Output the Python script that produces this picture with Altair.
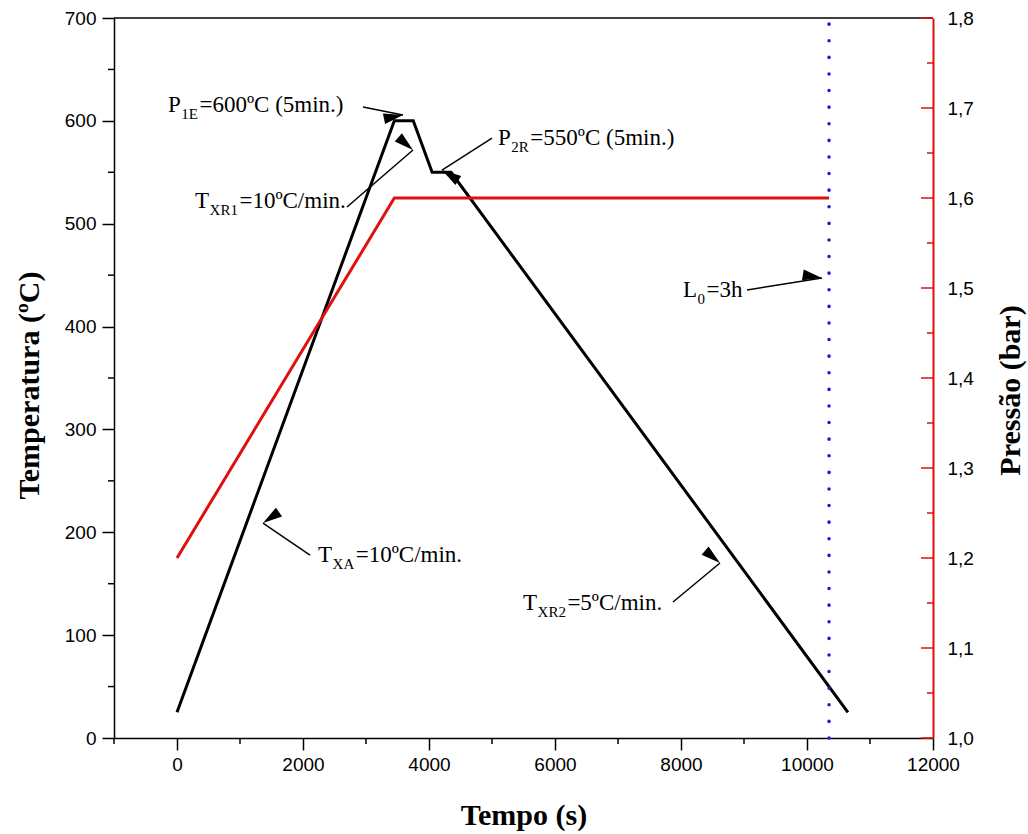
import math
import altair as alt
import pandas as pd

# ---------------- data ----------------
time_temp = [0, 3450, 3750, 4050, 4350, 10650]          # s
temperature = [25, 600, 600, 550, 550, 25]              # ºC
time_press = [0, 3450, 10350]                           # s
pressure = [1.2, 1.6, 1.6]                              # bar
limit_time = [10350]                                    # L0 = 3h marker

x_major_values = [0, 2000, 4000, 6000, 8000, 10000, 12000]
x_minor_values = [-1000, 1000, 3000, 5000, 7000, 9000, 11000]
t_major_values = [0, 100, 200, 300, 400, 500, 600, 700]
t_minor_values = [50, 150, 250, 350, 450, 550, 650]
p_label_values = [1.0, 1.1, 1.2, 1.3, 1.4, 1.5, 1.6, 1.7, 1.8]
p_minor_values = [1.05, 1.15, 1.25, 1.35, 1.45, 1.55, 1.65, 1.75]

# annotations: main letter, subscript, rest, anchor (time, temperature)
ann_main = ["P", "T", "P", "T", "T", "L"]
ann_sub = ["1E", "XR1", "2R", "XA", "XR2", "0"]
ann_rest = ["=600ºC (5min.)", "=10ºC/min.", "=550ºC (5min.)",
            "=10ºC/min.", "=5ºC/min.", "=3h"]
ann_time = [-143, 286, 5095, 2238, 5492, 8032]
ann_temp = [608.6, 515.3, 576.5, 171.1, 124.4, 428.7]

# arrows: tail -> tip (time, temperature)
arr_tail_time = [2952, 2698, 5000, 2111, 7873, 9048]
arr_tail_temp = [613.5, 516.2, 583.3, 177.9, 132.2, 435.6]
arr_tip_time = [3587, 3746, 4206, 1365, 8619, 10238]
arr_tip_temp = [605.7, 571.7, 552.2, 209.0, 170.1, 447.2]

# ---------------- layout ----------------
W, H = 819, 720
X_DOM = [-1000, 12000]
T_DOM = [0, 700]
P_DOM = [1.0, 1.8]
kx = W / (X_DOM[1] - X_DOM[0])   # px per second
ky = H / (T_DOM[1] - T_DOM[0])   # px per ºC

RED = "#e01010"
BLUE = "#1a1ad0"
SERIF = "Liberation Serif"
SANS = "Liberation Sans"
MAIN_FS, SUB_FS = 23, 15

xs = alt.Scale(domain=X_DOM, nice=False, zero=False)
ts = alt.Scale(domain=T_DOM, nice=False, zero=False)
ps = alt.Scale(domain=P_DOM, nice=False, zero=False)

char_w = {"P": 0.556, "T": 0.611, "L": 0.611, "1": 0.5, "2": 0.5, "0": 0.5,
          "E": 0.611, "R": 0.667, "X": 0.722, "A": 0.722}


def text_w(s, fs):
    return sum(char_w.get(c, 0.5) for c in s) * fs


# ---------------- temperature ----------------
temp_df = pd.DataFrame({"t": time_temp, "T": temperature})

x_axis = alt.Axis(
    orient="bottom",
    values=x_major_values, title="Tempo (s)", grid=False, format="d",
    domainColor="black", domainWidth=1.5, tickColor="black", tickWidth=1.5,
    tickSize=12,
    labelFont=SANS, labelFontSize=19, labelColor="black", labelPadding=5,
    labelFlush=False, labelOverlap=False,
    titleFont=SERIF, titleFontSize=30, titleFontWeight="bold", titleColor="black",
    titleX=W / 2, titleY=77, titleBaseline="middle", titleAlign="center",
)

t_axis = alt.Axis(
    orient="left",
    values=t_major_values, title="Temperatura (ºC)", grid=False, format="d",
    domainColor="black", domainWidth=1.5, tickColor="black", tickWidth=1.5,
    tickSize=12,
    labelFont=SANS, labelFontSize=19, labelColor="black", labelPadding=6,
    labelFlush=False, labelOverlap=False,
    titleFont=SERIF, titleFontSize=30, titleFontWeight="bold", titleColor="black",
    titleAngle=270, titleX=-85, titleY=367, titleBaseline="middle", titleAlign="center",
)

# x encodings of the secondary layers leave the axis unspecified so that the
# shared x axis (defined once on the temperature line) is kept
def xq(field):
    return alt.X(field, type="quantitative", scale=xs)


temp_line = alt.Chart(temp_df).mark_line(
    color="black", strokeWidth=3, strokeJoin="miter"
).encode(
    x=alt.X("t:Q", scale=xs, axis=x_axis),
    y=alt.Y("T:Q", scale=ts, axis=t_axis),
)

blue_df = pd.DataFrame({"t": limit_time, "y0": [T_DOM[0]], "y1": [T_DOM[1]]})
blue_line = alt.Chart(blue_df).mark_rule(
    color=BLUE, strokeWidth=3.5, strokeDash=[0.1, 16.5], strokeCap="round"
).encode(
    x=xq("t"),
    y=alt.Y("y0:Q", scale=ts, axis=None),
    y2="y1:Q",
)

frame_df = pd.DataFrame({"x0": [X_DOM[0]], "x1": [X_DOM[1]], "y": [T_DOM[1]]})
top_frame = alt.Chart(frame_df).mark_rule(color="black", strokeWidth=1.5).encode(
    x=xq("x0"),
    x2="x1:Q",
    y=alt.Y("y:Q", scale=ts, axis=None),
)

# minor ticks (shorter, outside the plot)
xminor_df = pd.DataFrame({"t": x_minor_values})
x_minor = alt.Chart(xminor_df).mark_rule(color="black", strokeWidth=1.5).encode(
    x=xq("t"),
    y=alt.value(H), y2=alt.value(H + 6),
)
tminor_df = pd.DataFrame({"T": t_minor_values})
t_minor = alt.Chart(tminor_df).mark_rule(color="black", strokeWidth=1.5).encode(
    y=alt.Y("T:Q", scale=ts, axis=None),
    x=alt.value(0), x2=alt.value(-6),
)

# arrows
arr_df = pd.DataFrame({
    "x0": arr_tail_time, "y0": arr_tail_temp,
    "x1": arr_tip_time, "y1": arr_tip_temp,
})
arr_df["ang"] = [
    (math.degrees(math.atan2((b - a) * kx, -(d - c) * ky)) + 360) % 360
    for a, b, c, d in zip(arr_df.x0, arr_df.x1, arr_df.y0, arr_df.y1)
]
shafts = alt.Chart(arr_df).mark_rule(color="black", strokeWidth=1.5).encode(
    x=xq("x0"), x2="x1:Q",
    y=alt.Y("y0:Q", scale=ts, axis=None), y2="y1:Q",
)
heads = alt.Chart(arr_df).mark_point(
    shape="M0,0L0.28,1L-0.28,1Z", filled=True, color="black", opacity=1,
    size=1500, strokeWidth=0,
).encode(
    x=xq("x1"),
    y=alt.Y("y1:Q", scale=ts, axis=None),
    angle=alt.Angle("ang:Q", scale=None),
)

# annotation texts (main letter, subscript, rest)
ann_df = pd.DataFrame({
    "main": ann_main, "sub": ann_sub, "rest": ann_rest,
    "x": ann_time, "y": ann_temp,
})
ann_df["x_sub"] = [x + (text_w(m, MAIN_FS) + 0.5) / kx for x, m in zip(ann_df.x, ann_df.main)]
ann_df["x_rest"] = [x + (text_w(m, MAIN_FS) + text_w(s, SUB_FS) + 2) / kx
                    for x, m, s in zip(ann_df.x, ann_df.main, ann_df["sub"])]
ann_df["y_sub"] = ann_df.y - 7 / ky

txt_common = dict(align="left", baseline="alphabetic", font=SERIF, color="black")
t_main = alt.Chart(ann_df).mark_text(fontSize=MAIN_FS, **txt_common).encode(
    x=xq("x"), y=alt.Y("y:Q", scale=ts, axis=None), text="main:N")
t_sub = alt.Chart(ann_df).mark_text(fontSize=SUB_FS, **txt_common).encode(
    x=xq("x_sub"), y=alt.Y("y_sub:Q", scale=ts, axis=None), text="sub:N")
t_rest = alt.Chart(ann_df).mark_text(fontSize=MAIN_FS, **txt_common).encode(
    x=xq("x_rest"), y=alt.Y("y:Q", scale=ts, axis=None), text="rest:N")

# ---------------- pressure ----------------
press_df = pd.DataFrame({"t": time_press, "p": pressure})
p_axis = alt.Axis(
    orient="right", values=p_label_values, title="Pressão (bar)", grid=False,
    ticks=False, domainColor=RED, domainWidth=2,
    labelExpr="replace(format(datum.value, '.1f'), '.', ',')",
    labelFont=SANS, labelFontSize=19, labelColor="black", labelPadding=14,
    labelFlush=False, labelOverlap=False,
    titleFont=SERIF, titleFontSize=30, titleFontWeight="bold", titleColor="black",
    titleAngle=270, titleX=77, titleY=372, titleBaseline="middle", titleAlign="center",
)
press_line = alt.Chart(press_df).mark_line(
    color=RED, strokeWidth=3, strokeJoin="miter"
).encode(
    x=xq("t"),
    y=alt.Y("p:Q", scale=ps, axis=p_axis),
)
major_df = pd.DataFrame({"p": p_label_values})
minor_df = pd.DataFrame({"p": p_minor_values})
major_ticks = alt.Chart(major_df).mark_rule(color=RED, strokeWidth=1.5).encode(
    x=alt.value(W), x2=alt.value(W - 12),
    y=alt.Y("p:Q", scale=ps, axis=None),
)
minor_ticks = alt.Chart(minor_df).mark_rule(color=RED, strokeWidth=1.5).encode(
    x=alt.value(W), x2=alt.value(W - 6),
    y=alt.Y("p:Q", scale=ps, axis=None),
)

chart = alt.layer(
    temp_line, press_line, blue_line, top_frame, x_minor, t_minor,
    shafts, heads, t_main, t_sub, t_rest, major_ticks, minor_ticks,
).resolve_scale(
    y="independent"
).properties(
    width=W, height=H,
    autosize=alt.AutoSizeParams(type="none"),
    padding={"left": 114, "top": 18, "right": 95, "bottom": 96},
    background="white",
).configure_view(stroke=None)

chart.save("out.html", embed_options={"renderer": "svg", "actions": False})
